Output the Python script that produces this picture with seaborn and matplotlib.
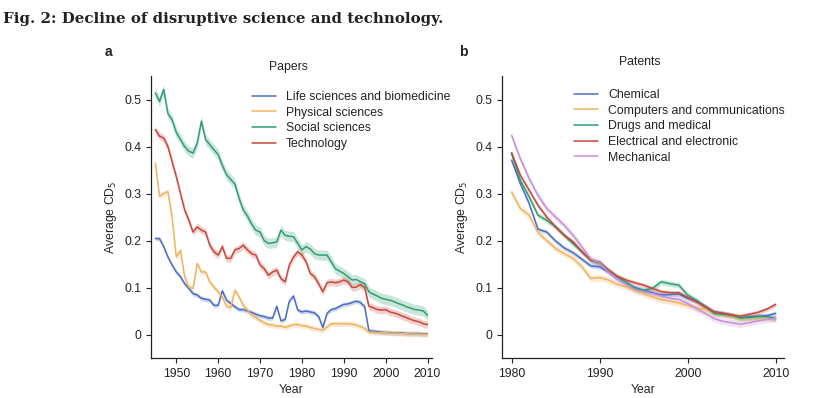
import numpy as np
import pandas as pd
import matplotlib
matplotlib.use("Agg")
from matplotlib import pyplot as plt
from matplotlib.ticker import FuncFormatter
import seaborn as sns

# papers, 1945-2010
paper_years = list(range(1945, 2011))
life_sci = [0.204, 0.204, 0.187, 0.165, 0.148, 0.133, 0.123, 0.108, 0.098, 0.087,
            0.084, 0.077, 0.075, 0.073, 0.062, 0.062, 0.093, 0.073, 0.066, 0.059,
            0.053, 0.053, 0.050, 0.047, 0.043, 0.040, 0.038, 0.035, 0.035, 0.060,
            0.029, 0.032, 0.071, 0.082, 0.052, 0.048, 0.050, 0.048, 0.046, 0.038,
            0.015, 0.045, 0.053, 0.055, 0.060, 0.064, 0.065, 0.068, 0.071, 0.068,
            0.059, 0.008, 0.007, 0.006, 0.005, 0.004, 0.004, 0.003, 0.003, 0.003,
            0.002, 0.002, 0.002, 0.002, 0.001, 0.001]
phys_sci = [0.365, 0.294, 0.300, 0.304, 0.250, 0.165, 0.179, 0.123, 0.101, 0.098,
            0.151, 0.133, 0.133, 0.112, 0.101, 0.091, 0.080, 0.060, 0.057, 0.094,
            0.080, 0.062, 0.052, 0.041, 0.036, 0.030, 0.025, 0.021, 0.020, 0.018,
            0.018, 0.015, 0.018, 0.021, 0.021, 0.019, 0.018, 0.015, 0.013, 0.011,
            0.009, 0.016, 0.023, 0.023, 0.023, 0.023, 0.023, 0.022, 0.020, 0.017,
            0.013, 0.005, 0.005, 0.004, 0.004, 0.004, 0.003, 0.003, 0.002, 0.002,
            0.002, 0.001, 0.001, 0.001, 0.000, 0.000]
soc_sci = [0.514, 0.496, 0.521, 0.470, 0.457, 0.430, 0.415, 0.400, 0.390, 0.386,
           0.407, 0.454, 0.415, 0.404, 0.393, 0.383, 0.360, 0.340, 0.330, 0.320,
           0.290, 0.265, 0.252, 0.235, 0.222, 0.218, 0.200, 0.194, 0.195, 0.197,
           0.222, 0.211, 0.209, 0.208, 0.194, 0.180, 0.187, 0.182, 0.172, 0.169,
           0.169, 0.169, 0.155, 0.140, 0.135, 0.130, 0.123, 0.116, 0.117, 0.112,
           0.108, 0.091, 0.086, 0.082, 0.077, 0.075, 0.073, 0.070, 0.066, 0.063,
           0.059, 0.056, 0.053, 0.052, 0.050, 0.041]
technology = [0.436, 0.422, 0.418, 0.400, 0.368, 0.336, 0.300, 0.265, 0.243, 0.218,
              0.229, 0.222, 0.218, 0.190, 0.176, 0.169, 0.187, 0.162, 0.162, 0.180,
              0.183, 0.190, 0.180, 0.172, 0.169, 0.148, 0.140, 0.126, 0.133, 0.137,
              0.119, 0.112, 0.148, 0.165, 0.176, 0.169, 0.155, 0.130, 0.123, 0.108,
              0.091, 0.110, 0.112, 0.110, 0.112, 0.116, 0.112, 0.100, 0.101, 0.106,
              0.100, 0.060, 0.057, 0.053, 0.052, 0.053, 0.048, 0.046, 0.043, 0.039,
              0.036, 0.032, 0.029, 0.027, 0.023, 0.021]

# patents, 1980-2010
patent_years = list(range(1980, 2011))
chemical = [0.371, 0.321, 0.279, 0.224, 0.218, 0.199, 0.184, 0.174, 0.160, 0.146,
            0.144, 0.133, 0.119, 0.108, 0.100, 0.094, 0.089, 0.084, 0.085, 0.086,
            0.077, 0.070, 0.060, 0.048, 0.045, 0.041, 0.036, 0.038, 0.039, 0.040,
            0.045]
computers = [0.303, 0.268, 0.254, 0.217, 0.200, 0.183, 0.172, 0.162, 0.144, 0.119,
             0.121, 0.116, 0.107, 0.101, 0.094, 0.087, 0.080, 0.074, 0.071, 0.067,
             0.062, 0.057, 0.053, 0.046, 0.043, 0.039, 0.034, 0.034, 0.036, 0.036,
             0.034]
drugs = [0.385, 0.328, 0.293, 0.254, 0.243, 0.229, 0.211, 0.193, 0.176, 0.158,
         0.151, 0.137, 0.123, 0.112, 0.098, 0.094, 0.098, 0.112, 0.108, 0.105,
         0.084, 0.073, 0.059, 0.045, 0.043, 0.041, 0.035, 0.036, 0.038, 0.038,
         0.034]
electrical = [0.387, 0.339, 0.307, 0.275, 0.250, 0.229, 0.211, 0.197, 0.176, 0.158,
              0.154, 0.137, 0.124, 0.116, 0.110, 0.105, 0.098, 0.091, 0.089, 0.089,
              0.079, 0.070, 0.059, 0.048, 0.045, 0.041, 0.039, 0.043, 0.047, 0.054,
              0.064]
mechanical = [0.424, 0.374, 0.332, 0.296, 0.268, 0.250, 0.232, 0.211, 0.186, 0.161,
              0.152, 0.133, 0.119, 0.107, 0.096, 0.091, 0.087, 0.082, 0.077, 0.075,
              0.066, 0.055, 0.045, 0.034, 0.028, 0.025, 0.022, 0.025, 0.029, 0.032,
              0.034]

paper_fields = ['Life sciences and biomedicine', 'Physical sciences', 'Social sciences', 'Technology']
patent_fields = ['Chemical', 'Computers and communications', 'Drugs and medical',
                 'Electrical and electronic', 'Mechanical']
paper_values = [life_sci, phys_sci, soc_sci, technology]
patent_values = [chemical, computers, drugs, electrical, mechanical]
# half width of the shaded confidence band
paper_band = [0.005, 0.006, 0.011, 0.008]
patent_band = [0.005, 0.007, 0.006, 0.005, 0.007]

blue, orange, green, red, purple = '#4a6fc4', '#f0b35e', '#2f9e70', '#c9473b', '#c690d6'
paper_colors = [blue, orange, green, red]
patent_colors = [blue, orange, green, red, purple]

# long form tables for seaborn
df_papers = pd.DataFrame({
    'Year': np.tile(paper_years, len(paper_fields)),
    'CD5': np.concatenate(paper_values),
    'field': np.repeat(paper_fields, len(paper_years)),
})
df_patents = pd.DataFrame({
    'Year': np.tile(patent_years, len(patent_fields)),
    'CD5': np.concatenate(patent_values),
    'field': np.repeat(patent_fields, len(patent_years)),
})

sns.set_style("ticks")
plt.rcParams['font.family'] = ['Liberation Sans', 'DejaVu Sans']
plt.rcParams['font.size'] = 8.8
plt.rcParams['text.color'] = '#222222'

fig = plt.figure(figsize=(8.35, 3.98), dpi=100)
ax_a = fig.add_axes([0.181, 0.1005, 0.336, 0.7085])
ax_b = fig.add_axes([0.601, 0.1005, 0.338, 0.7085])

# panel a
sns.lineplot(data=df_papers, x='Year', y='CD5', hue='field', hue_order=paper_fields,
             palette=paper_colors, linewidth=1.1, ax=ax_a)
for vals, band, col in zip(paper_values, paper_band, paper_colors):
    v = np.array(vals)
    ax_a.fill_between(paper_years, v - band, v + band, color=col, alpha=0.25, lw=0)
ax_a.set_xlim(1944, 2011)
ax_a.set_xticks([1950, 1960, 1970, 1980, 1990, 2000, 2010])

# panel b
sns.lineplot(data=df_patents, x='Year', y='CD5', hue='field', hue_order=patent_fields,
             palette=patent_colors, linewidth=1.1, ax=ax_b)
for vals, band, col in zip(patent_values, patent_band, patent_colors):
    v = np.array(vals)
    ax_b.fill_between(patent_years, v - band, v + band, color=col, alpha=0.25, lw=0)
ax_b.set_xlim(1978.9, 2010.95)
ax_b.set_xticks([1980, 1990, 2000, 2010])

for ax in (ax_a, ax_b):
    ax.set_ylim(-0.05, 0.55)
    ax.set_yticks([0, 0.1, 0.2, 0.3, 0.4, 0.5])
    ax.yaxis.set_major_formatter(FuncFormatter(lambda y, p: '%g' % round(y, 2)))
    ax.set_xlabel('Year', fontsize=8.8, labelpad=3)
    ax.set_ylabel('Average CD$_5$', fontsize=8.8, labelpad=4)
    ax.tick_params(length=3.5, width=0.8, labelsize=8.8, color='#222222', labelcolor='#222222')
    for s in ('left', 'bottom'):
        ax.spines[s].set_linewidth(0.9)
        ax.spines[s].set_color('#222222')
    sns.despine(ax=ax)

ax_a.legend(loc='upper left', bbox_to_anchor=(252 / 835, 1 - 91 / 398),
            bbox_transform=fig.transFigure, frameon=False, fontsize=8.8,
            handlelength=2.0, handletextpad=0.8, labelspacing=0.3,
            borderaxespad=0, borderpad=0)
ax_b.legend(loc='upper left', bbox_to_anchor=(574 / 835, 1 - 89 / 398),
            bbox_transform=fig.transFigure, frameon=False, fontsize=8.8,
            handlelength=2.0, handletextpad=0.8, labelspacing=0.3,
            borderaxespad=0, borderpad=0)

fig.text(288 / 835, 1 - 67 / 398, 'Papers', ha='center', va='center', fontsize=8.8)
fig.text(640 / 835, 1 - 62 / 398, 'Patents', ha='center', va='center', fontsize=8.8)
fig.text(108 / 835, 1 - 52 / 398, 'a', ha='center', va='center', fontsize=10, fontweight='bold')
fig.text(463 / 835, 1 - 52 / 398, 'b', ha='center', va='center', fontsize=10, fontweight='bold')
fig.text(3 / 835, 1 - 19 / 398, 'Fig. 2: Decline of disruptive science and technology.',
         ha='left', va='center', fontsize=10.8, fontweight='bold', family='DejaVu Serif')

fig.savefig('out.png', dpi=100)
